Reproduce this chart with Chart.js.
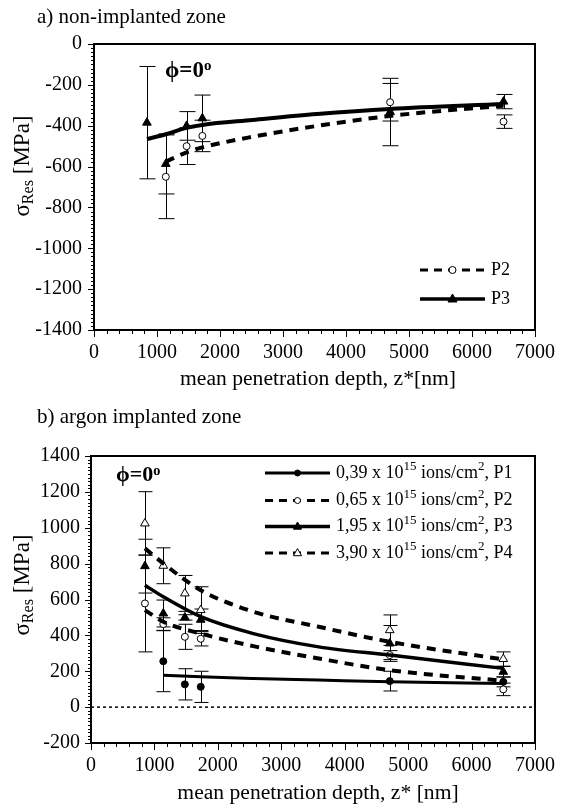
<!DOCTYPE html>
<html>
<head>
<meta charset="utf-8">
<script src="https://cdn.jsdelivr.net/npm/chart.js@4.4.0/dist/chart.umd.min.js"></script>
<style>
  body { margin: 0; background: #fff; }
  #wrap { position: relative; width: 566px; height: 808px; font-family: 'Liberation Serif', 'Times New Roman', serif; color: #000; }
  #wrap canvas { position: absolute; left: 0; }
  .lbl { position: absolute; white-space: nowrap; line-height: 1; }
  .rot { transform: translate(-50%, -50%) rotate(-90deg); }
  .ctr { transform: translateX(-50%) scaleX(1.08); }
  .phi { font-weight: bold; }
  sub { font-size: 70%; vertical-align: -0.25em; line-height: 0; }
  sup { font-size: 65%; vertical-align: 0.45em; line-height: 0; }
</style>
</head>
<body>
<div id="wrap">
  <canvas id="chartA" width="566" height="404" style="top:0"></canvas>
  <canvas id="chartB" width="566" height="404" style="top:404px"></canvas>

  <div class="lbl" style="left:37px;top:6px;font-size:21px">a) non-implanted zone</div>
  <div class="lbl rot" style="left:21px;top:166px;font-size:23px">&sigma;<sub>Res</sub> [MPa]</div>
  <div class="lbl ctr" style="left:318px;top:368px;font-size:20px">mean penetration depth, z*[nm]</div>
  <div class="lbl phi" style="left:165px;top:58px;font-size:23px">&#x03D5;=0<sup>o</sup></div>

  <div class="lbl" style="left:37px;top:406px;font-size:21px">b) argon implanted zone</div>
  <div class="lbl rot" style="left:21px;top:585px;font-size:23px">&sigma;<sub>Res</sub> [MPa]</div>
  <div class="lbl ctr" style="left:318px;top:782px;font-size:20px">mean penetration depth, z* [nm]</div>
  <div class="lbl phi" style="left:116px;top:463px;font-size:22px">&#x03D5;=0<sup>o</sup></div>
</div>

<script>
// ---- a) non-implanted zone ----
var depthA = [840, 1140, 1470, 1720, 4700, 6500];
var aP2 = [null, -650, -500, -450, -285, -380];
var aP2Err = [null, 205, 90, 77, 92, 33];
var aP3 = [-385, -587, -401, -364, -333, -282];
var aP3Err = [275, 147, 70, 114, 165, 35];
// fitted curves
var aFitX = [840, 1140, 1470, 1720, 2520, 3540, 4700, 6500];
var aFitP2 = [null, -576, -530, -506, -454, -401, -352, -302];
var aFitP3 = [-465, -442, -410, -396, -372, -343, -318, -294];

// ---- b) argon implanted zone ----
var depthB = [850, 1140, 1480, 1730, 4710, 6500];
var bP1 = [null, 256, 127, 113, 145, 141];
var bP1Err = [null, 170, 87, 87, 55, 28];
var bP2 = [578, 463, 392, 381, 290, 99];
var bP2Err = [270, 35, 70, 40, 25, 35];
var bP3 = [786, 522, 500, 487, 355, 197];
var bP3Err = [150, 75, 15, 60, 100, 30];
var bP4 = [1024, 788, 634, 541, 429, 268];
var bP4Err = [177, 100, 100, 130, 85, 40];
var bFitX = [850, 1140, 1730, 2560, 3590, 4710, 6500];
var bFitP1 = [null, 178, 169, 160, 151, 141, 132];
var bFitP2 = [541, 476, 410, 340, 271, 206, 147];
var bFitP3 = [680, 615, 504, 410, 336, 290, 216];
var bFitP4 = [885, 801, 652, 532, 448, 364, 266];

var doses = ['0,39', '0,65', '1,95', '3,90'];
var names = ['P1', 'P2', 'P3', 'P4'];

var xTicks = { min: 0, max: 7000, step: 1000 };
var yTicksA = { min: -1400, max: 0, step: 200 };
var yTicksB = { min: -200, max: 1400, step: 200 };

Chart.defaults.font.family = "'Liberation Serif', 'Times New Roman', serif";
Chart.defaults.font.size = 20;
Chart.defaults.color = '#000';

function pts(xs, ys) {
  var out = [];
  for (var i = 0; i < xs.length; i++) {
    if (ys[i] !== null) out.push({ x: xs[i], y: ys[i] });
  }
  return out;
}
function errs(ys, es) {
  var out = [];
  for (var i = 0; i < ys.length; i++) {
    if (ys[i] !== null) out.push(es[i]);
  }
  return out;
}

function fitSet(xs, ys, dash, w) {
  return {
    type: 'line', data: pts(xs, ys), borderColor: '#000', borderWidth: w,
    borderDash: dash, pointRadius: 0, cubicInterpolationMode: 'monotone', fill: false
  };
}
function markSet(xs, ys, es, style, fill, r) {
  return {
    type: 'scatter', data: pts(xs, ys), errors: errs(ys, es),
    pointStyle: style, pointRadius: r, pointBackgroundColor: fill,
    pointBorderColor: '#000', pointBorderWidth: 1, showLine: false
  };
}

function drawMarker(ctx, style, fill, x, y, r) {
  ctx.save();
  ctx.setLineDash([]);
  ctx.fillStyle = fill;
  ctx.strokeStyle = '#000';
  ctx.lineWidth = 1;
  ctx.beginPath();
  if (style === 'triangle') {
    ctx.moveTo(x, y - r);
    ctx.lineTo(x + r * 0.9, y + r * 0.6);
    ctx.lineTo(x - r * 0.9, y + r * 0.6);
    ctx.closePath();
  } else {
    ctx.arc(x, y, r, 0, Math.PI * 2);
  }
  ctx.fill();
  ctx.stroke();
  ctx.restore();
}

function drawParts(ctx, parts, x, y) {
  parts.forEach(function (p) {
    ctx.font = (p.sup ? '13px' : '18px') + " 'Liberation Serif', serif";
    ctx.fillText(p.t, x, p.sup ? y - 6 : y);
    x += ctx.measureText(p.t).width;
  });
}

function makeDecor(cfg) {
  return {
    id: 'decor',
    beforeDatasetsDraw: function (chart) {
      var ctx = chart.ctx, xs = chart.scales.x, ys = chart.scales.y, a = chart.chartArea;
      ctx.save();
      if (cfg.zeroLine) {
        var y0 = ys.getPixelForValue(0);
        ctx.strokeStyle = '#000';
        ctx.lineWidth = 1.5;
        ctx.setLineDash([3, 3]);
        ctx.beginPath();
        ctx.moveTo(a.left, y0);
        ctx.lineTo(a.right, y0);
        ctx.stroke();
        ctx.setLineDash([]);
      }
      ctx.strokeStyle = '#000';
      ctx.lineWidth = 1;
      chart.data.datasets.forEach(function (ds) {
        if (!ds.errors) return;
        ds.data.forEach(function (p, j) {
          var e = ds.errors[j];
          var px = Math.round(xs.getPixelForValue(p.x)) + 0.5;
          var t = ys.getPixelForValue(p.y + e), b = ys.getPixelForValue(p.y - e);
          ctx.beginPath();
          ctx.moveTo(px, t); ctx.lineTo(px, b);
          ctx.moveTo(px - cfg.cap, t); ctx.lineTo(px + cfg.cap, t);
          ctx.moveTo(px - cfg.cap, b); ctx.lineTo(px + cfg.cap, b);
          ctx.stroke();
        });
      });
      ctx.restore();
    },
    afterDraw: function (chart) {
      var ctx = chart.ctx, xs = chart.scales.x, ys = chart.scales.y, a = chart.chartArea;
      ctx.save();
      ctx.strokeStyle = '#000';
      ctx.lineWidth = 2;
      ctx.strokeRect(a.left, a.top, a.right - a.left, a.bottom - a.top);
      ctx.lineWidth = 1;
      ctx.beginPath();
      var v, p, len;
      for (v = cfg.y.min; v <= cfg.y.max; v += 20) {
        p = Math.round(ys.getPixelForValue(v)) + 0.5;
        len = (v % 200 === 0) ? 6 : 3;
        ctx.moveTo(a.left, p); ctx.lineTo(a.left - len, p);
      }
      for (v = xTicks.min; v <= xTicks.max; v += 200) {
        p = Math.round(xs.getPixelForValue(v)) + 0.5;
        len = (v % 1000 === 0) ? 7 : 4;
        ctx.moveTo(p, a.bottom); ctx.lineTo(p, a.bottom + len);
      }
      ctx.stroke();

      // legend
      ctx.fillStyle = '#000';
      ctx.textBaseline = 'middle';
      cfg.legend.forEach(function (row) {
        ctx.save();
        ctx.lineWidth = row.w;
        ctx.setLineDash(row.dash);
        ctx.beginPath();
        ctx.moveTo(cfg.lx0, row.y);
        ctx.lineTo(cfg.lx1, row.y);
        ctx.stroke();
        ctx.restore();
        drawMarker(ctx, row.style, row.fill, (cfg.lx0 + cfg.lx1) / 2, row.y, row.r);
        drawParts(ctx, row.parts, cfg.lx1 + 6, row.y);
      });
      ctx.restore();
    }
  };
}

function plain(v) { return String(v); }

function baseOptions(yt, w, h, pad) {
  return {
    responsive: false,
    animation: false,
    events: [],
    layout: { padding: pad },
    plugins: { legend: { display: false }, tooltip: { enabled: false } },
    scales: {
      x: {
        type: 'linear', min: xTicks.min, max: xTicks.max,
        grid: { display: false, drawTicks: false },
        border: { display: false },
        ticks: { stepSize: xTicks.step, padding: h.pad, maxRotation: 0, autoSkip: false, callback: plain },
        afterFit: function (s) { s.height = h.size; }
      },
      y: {
        min: yt.min, max: yt.max,
        grid: { display: false, drawTicks: false },
        border: { display: false },
        ticks: { stepSize: yt.step, padding: w.pad, autoSkip: false, callback: plain },
        afterFit: function (s) { s.width = w.size; }
      }
    }
  };
}

// chart a
new Chart(document.getElementById('chartA'), {
  type: 'scatter',
  data: {
    datasets: [
      fitSet(aFitX, aFitP2, [9, 7], 4),
      fitSet(aFitX, aFitP3, [], 4),
      markSet(depthA, aP3, aP3Err, 'triangle', '#000', 5),
      markSet(depthA, aP2, aP2Err, 'circle', '#fff', 3.5)
    ]
  },
  options: baseOptions(yTicksA, { size: 94, pad: 12 }, { size: 74, pad: 11 }, { left: 0, top: 44, right: 19, bottom: 0 }),
  plugins: [makeDecor({
    y: yTicksA, cap: 8, zeroLine: false, lx0: 420, lx1: 485,
    legend: [
      { y: 270, w: 3, dash: [8, 6], style: 'circle', fill: '#fff', r: 3.5, parts: [{ t: names[1] }] },
      { y: 299, w: 3.5, dash: [], style: 'triangle', fill: '#000', r: 5, parts: [{ t: names[2] }] }
    ]
  })]
});

// chart b
function doseParts(i) {
  return [{ t: doses[i] + ' x 10' }, { t: '15', sup: true }, { t: ' ions/cm' }, { t: '2', sup: true }, { t: ', ' + names[i] }];
}
new Chart(document.getElementById('chartB'), {
  type: 'scatter',
  data: {
    datasets: [
      fitSet(bFitX, bFitP1, [], 3),
      fitSet(bFitX, bFitP2, [9, 7], 4),
      fitSet(bFitX, bFitP3, [], 3.5),
      fitSet(bFitX, bFitP4, [9, 7], 4),
      markSet(depthB, bP1, bP1Err, 'circle', '#000', 3.5),
      markSet(depthB, bP2, bP2Err, 'circle', '#fff', 3.5),
      markSet(depthB, bP3, bP3Err, 'triangle', '#000', 5),
      markSet(depthB, bP4, bP4Err, 'triangle', '#fff', 5)
    ]
  },
  options: baseOptions(yTicksB, { size: 91, pad: 11 }, { size: 65, pad: 11 }, { left: 0, top: 52, right: 22, bottom: 0 }),
  plugins: [makeDecor({
    y: yTicksB, cap: 7, zeroLine: true, lx0: 265, lx1: 330,
    legend: [
      { y: 69, w: 3, dash: [], style: 'circle', fill: '#000', r: 3, parts: doseParts(0) },
      { y: 96.5, w: 3, dash: [8, 6], style: 'circle', fill: '#fff', r: 3, parts: doseParts(1) },
      { y: 122.5, w: 3.5, dash: [], style: 'triangle', fill: '#000', r: 4.5, parts: doseParts(2) },
      { y: 149, w: 3, dash: [8, 6], style: 'triangle', fill: '#fff', r: 4.5, parts: doseParts(3) }
    ]
  })]
});
</script>
</body>
</html>
